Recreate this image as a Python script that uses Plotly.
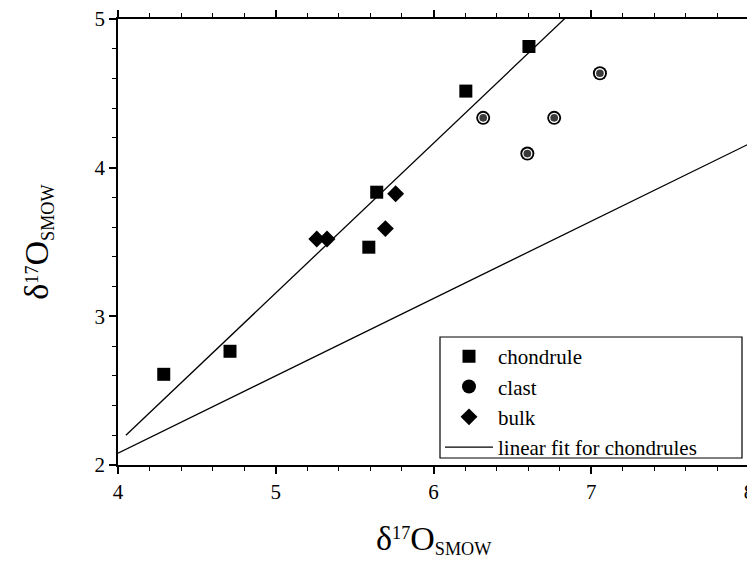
import numpy as np
import plotly.graph_objects as go

# Data
chondrule_x = [4.29, 4.71, 5.59, 5.64, 6.205, 6.605]
chondrule_y = [2.61, 2.765, 3.465, 3.835, 4.515, 4.815]

clast_x = [6.315, 6.765, 6.595, 7.055]
clast_y = [4.335, 4.335, 4.095, 4.635]

bulk_x = [5.26, 5.325, 5.695, 5.76]
bulk_y = [3.52, 3.52, 3.59, 3.825]

fit_x_range = [4.05, 6.9]
tfl_slope = 0.52
tfl_x_range = [4.0, 8.0]

x_ticks = [4, 5, 6, 7, 8]
y_ticks = [2, 3, 4, 5]

FONT = "Liberation Serif, Times New Roman, Times, serif"
TITLE = ("<span style='font-size:34px'>δ</span><sup>17</sup>"
         "<span style='font-size:34px'>O</span><sub>SMOW</sub>")

slope, intercept = np.polyfit(chondrule_x, chondrule_y, 1)
fx = np.array(fit_x_range)
fy = slope * fx + intercept
tx = np.array(tfl_x_range)
ty = tfl_slope * tx

fig = go.Figure()

fig.add_trace(go.Scatter(x=tx, y=ty, mode="lines", line=dict(color="black", width=1.3),
                         showlegend=False, hoverinfo="skip"))
fig.add_trace(go.Scatter(x=fx, y=fy, mode="lines", line=dict(color="black", width=1.3),
                         showlegend=False, hoverinfo="skip"))

fig.add_trace(go.Scatter(x=chondrule_x, y=chondrule_y, mode="markers", name="chondrule",
                         marker=dict(symbol="square", size=13, color="black",
                                     line=dict(width=0))))
fig.add_trace(go.Scatter(x=clast_x, y=clast_y, mode="markers", name="clast",
                         legendgroup="clast",
                         marker=dict(symbol="circle", size=14, color="black",
                                     line=dict(width=0))))
fig.add_trace(go.Scatter(x=clast_x, y=clast_y, mode="markers", name="clast",
                         legendgroup="clast", showlegend=False,
                         marker=dict(symbol="circle", size=9, color="#3a3a3a",
                                     line=dict(width=1.3, color="white"))))
fig.add_trace(go.Scatter(x=bulk_x, y=bulk_y, mode="markers", name="bulk",
                         marker=dict(symbol="diamond", size=13, color="black",
                                     line=dict(width=0))))
fig.add_trace(go.Scatter(x=[None], y=[None], mode="lines", name="linear fit for chondrules",
                         line=dict(color="black", width=1.3)))

axis_common = dict(
    showline=True, linecolor="black", linewidth=1.5, mirror="allticks",
    ticks="outside", ticklen=7, tickwidth=1.5, tickcolor="black",
    showgrid=False, zeroline=False, automargin=False,
    ticklabeloverflow="allow",
    tickfont=dict(family=FONT, size=21, color="black"),
)
minor_common = dict(dtick=0.2, ticks="outside", ticklen=4, tickwidth=1.2,
                    tickcolor="black", showgrid=False)

fig.update_xaxes(range=[4, 8], tickvals=x_ticks, ticktext=[str(v) for v in x_ticks],
                 minor=dict(tick0=4, **minor_common),
                 **axis_common)
fig.update_yaxes(range=[2, 5], tickvals=y_ticks, ticktext=[str(v) for v in y_ticks],
                 minor=dict(tick0=2, **minor_common),
                 title=dict(text=TITLE, font=dict(family=FONT, size=26, color="black"),
                            standoff=38),
                 **axis_common)

# x-axis title as an annotation for exact vertical placement
fig.add_annotation(text=TITLE, xref="paper", yref="paper", x=0.5, y=0,
                   xanchor="center", yanchor="middle", yshift=-74, showarrow=False,
                   font=dict(family=FONT, size=26, color="black"))

# legend frame (page px 440..742 x 337..458 -> paper coords of plot area 118..749 x 19..465)
fig.add_shape(type="rect", xref="paper", yref="paper",
              x0=0.5103, x1=0.9889, y0=0.0157, y1=0.287,
              line=dict(color="black", width=1.2), fillcolor="rgba(0,0,0,0)",
              layer="above")

fig.update_layout(
    width=747, height=557,
    margin=dict(l=110, r=6, t=11, b=100, autoexpand=False),
    paper_bgcolor="white", plot_bgcolor="white",
    font=dict(family=FONT, color="black"),
    legend=dict(x=0.5103, y=0.141, xanchor="left", yanchor="middle",
                borderwidth=0, bgcolor="rgba(0,0,0,0)",
                font=dict(family=FONT, size=21, color="black"),
                itemwidth=48, tracegroupgap=0),
    showlegend=True,
)

fig.write_html("out.html")
